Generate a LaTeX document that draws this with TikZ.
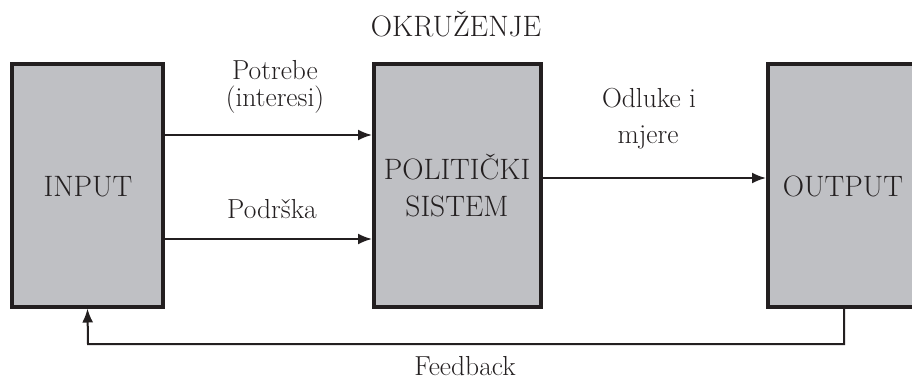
\documentclass[tikz,border=0pt]{standalone}
\usetikzlibrary{arrows.meta}
\definecolor{boxfill}{RGB}{191,192,196}
\definecolor{ink}{RGB}{35,31,32}
\begin{document}
\begin{tikzpicture}[x=1pt,y=-1pt,
  sysbox/.style={draw=ink,fill=boxfill,line width=4pt,rectangle,inner sep=0pt},
  big/.style={font=\fontsize{29.5}{35}\selectfont,text=ink,anchor=base,inner sep=0pt},
  lbl/.style={font=\fontsize{27.5}{33}\selectfont,text=ink,anchor=base,inner sep=0pt},
  arr/.style={draw=ink,line width=2pt,-{Latex[length=14pt,width=11pt]}},
  ln/.style={draw=ink,line width=2pt}]
\clip (0,0) rectangle (912,379);
\fill[white] (0,0) rectangle (912,379);
% boxes
\node[sysbox,minimum width=151pt,minimum height=242pt] (in) at (87.5,185.5) {};
\node[sysbox,minimum width=167pt,minimum height=242pt] (pol) at (457.5,185.5) {};
\node[sysbox,minimum width=152pt,minimum height=242pt] (out) at (844,185.5) {};
% box texts
\node[big] (tin) at (88,197) {INPUT};
\node[big] (tpol1) at (457,180) {POLITIČKI};
\node[big] (tpol2) at (457,217) {SISTEM};
\node[big] (tout) at (843,197) {OUTPUT};
\node[big] (env) at (456,37) {OKRUŽENJE};
% labels
\node[lbl] (l1) at (275,80) {Potrebe};
\node[lbl] (l2) at (275,107) {(interesi)};
\node[lbl] (l3) at (272,219) {Podrška};
\node[lbl] (l4) at (649,108) {Odluke i};
\node[lbl] (l5) at (648,144) {mjere};
\node[lbl] (l6) at (465,375) {Feedback};
% connector coordinates
\coordinate (ya) at (0,135);
\coordinate (yb) at (0,239);
\coordinate (yc) at (0,178);
\coordinate (fb1) at (844,344);
\coordinate (fb2) at (88,344);
% connectors
\draw[arr] (in.east |- ya) -- (pol.west |- ya);
\draw[arr] (in.east |- yb) -- (pol.west |- yb);
\draw[arr] (pol.east |- yc) -- (out.west |- yc);
\draw[arr] (out.south) -- (fb1) -- (fb2) -- (in.south);
\end{tikzpicture}
\end{document}
